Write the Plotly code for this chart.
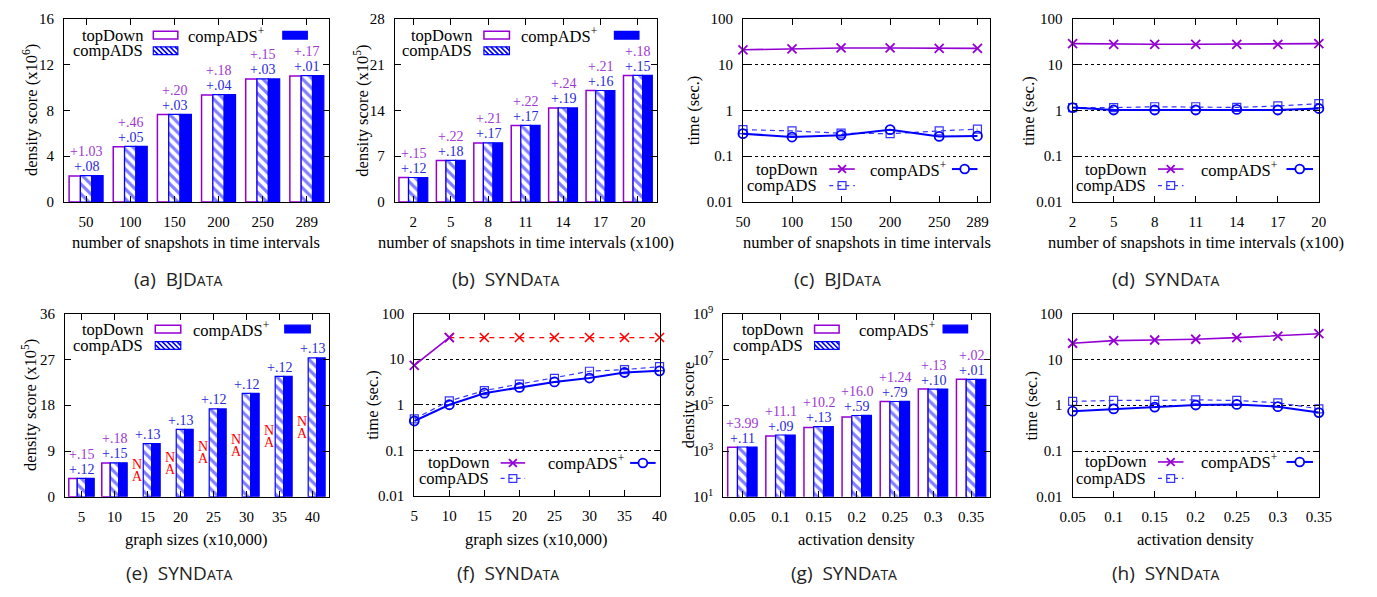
import plotly.graph_objects as go
import numpy as np

W, H = 1377, 597
OFF = 0
FW, FH = W - 2 * OFF, H - 2 * OFF

SERIF = "Liberation Serif"
SANS = "Open Sans"
PURPLE = "#9400D3"
BLUE = "#0000FF"
BLUE2 = "#3535ff"
RED = "#FF0000"
LAB_PURPLE = "#a035d5"
LAB_BLUE = "#2828e0"

# ---------------- data ----------------
# (a) BJData density score (x10^6)
a_cats = ["50", "100", "150", "200", "250", "289"]
a_topDown = [2.28, 4.83, 7.63, 9.35, 10.73, 11.01]
a_compADS = [2.31, 4.85, 7.65, 9.37, 10.75, 11.03]
a_compADSp = [2.31, 4.85, 7.65, 9.37, 10.75, 11.03]
a_lab_top = ["+1.03", "+.46", "+.20", "+.18", "+.15", "+.17"]
a_lab_cmp = ["+.08", "+.05", "+.03", "+.04", "+.03", "+.01"]

# (b) SYNData density score (x10^5)
b_cats = ["2", "5", "8", "11", "14", "17", "20"]
b_topDown = [3.74, 6.36, 9.03, 11.68, 14.35, 17.02, 19.33]
b_compADS = [3.75, 6.37, 9.04, 11.70, 14.37, 17.04, 19.36]
b_compADSp = [3.75, 6.37, 9.04, 11.70, 14.37, 17.04, 19.36]
b_lab_top = ["+.15", "+.22", "+.21", "+.22", "+.24", "+.21", "+.18"]
b_lab_cmp = ["+.12", "+.18", "+.17", "+.17", "+.19", "+.16", "+.15"]

# (c) BJData time (sec.)
c_x = [50, 100, 150, 200, 250, 289]
c_topDown = [21.0, 22.0, 23.0, 23.0, 22.5, 22.5]
c_compADS = [0.38, 0.356, 0.318, 0.31, 0.356, 0.39]
c_compADSp = [0.31, 0.262, 0.288, 0.38, 0.27, 0.277]

# (d) SYNData time (sec.)
d_x = [2, 5, 8, 11, 14, 17, 20]
d_topDown = [28.6, 27.7, 27.7, 27.7, 27.7, 27.7, 28.6]
d_compADS = [1.15, 1.15, 1.2, 1.2, 1.16, 1.25, 1.4]
d_compADSp = [1.15, 1.02, 1.02, 1.02, 1.05, 1.02, 1.1]

# (e) SYNData density score (x10^5) vs graph size
e_cats = ["5", "10", "15", "20", "25", "30", "35", "40"]
e_topDown = [3.60, 6.66, None, None, None, None, None, None]
e_compADS = [3.63, 6.69, 10.45, 13.26, 17.27, 20.33, 23.65, 27.28]
e_compADSp = [3.63, 6.69, 10.45, 13.26, 17.27, 20.33, 23.65, 27.28]
e_lab_top = ["+.15", "+.18", None, None, None, None, None, None]
e_lab_cmp = ["+.12", "+.15", "+.13", "+.13", "+.12", "+.12", "+.12", "+.13"]
e_na = [False, False, True, True, True, True, True, True]

# (f) SYNData time vs graph size
f_x = [5, 10, 15, 20, 25, 30, 35, 40]
f_topDown_x = [5, 10]
f_topDown = [7.3, 29.8]
f_topDown_na_x = [10, 15, 20, 25, 30, 35, 40]
f_topDown_na = [29.8, 29.8, 29.8, 29.8, 29.8, 29.8, 29.8]
f_compADS = [0.49, 1.21, 2.04, 2.83, 3.79, 5.43, 5.9, 6.84]
f_compADSp = [0.44, 1.0, 1.79, 2.4, 3.17, 3.85, 5.09, 5.53]

# (g) SYNData density score vs activation density (log)
g_cats = ["0.05", "0.1", "0.15", "0.2", "0.25", "0.3", "0.35"]
g_topDown = [1450, 4500, 10600, 30900, 144000, 506000, 1350000]
g_compADS = [1500, 5000, 11700, 35600, 145000, 507000, 1350000]
g_compADSp = [1500, 5000, 11700, 35800, 146000, 507000, 1350000]
g_lab_top = ["+3.99", "+11.1", "+10.2", "+16.0", "+1.24", "+.13", "+.02"]
g_lab_cmp = ["+.11", "+.09", "+.13", "+.59", "+.79", "+.10", "+.01"]

# (h) SYNData time vs activation density
h_x = [0.05, 0.1, 0.15, 0.2, 0.25, 0.3, 0.35]
h_topDown = [22.5, 25.7, 26.5, 27.5, 29.8, 32.3, 36.3]
h_compADS = [1.21, 1.27, 1.27, 1.31, 1.27, 1.13, 0.83]
h_compADSp = [0.74, 0.83, 0.91, 1.01, 1.04, 0.93, 0.69]

log_ticks = [0.01, 0.1, 1, 10, 100]
log_ticktext = ["0.01", "0.1", "1", "10", "100"]
g_ticks = [1e1, 1e3, 1e5, 1e7, 1e9]
g_ticktext = ["10<sup>1</sup>", "10<sup>3</sup>", "10<sup>5</sup>", "10<sup>7</sup>", "10<sup>9</sup>"]

# ---------------- layout geometry (target pixels) ----------------
panels = {
    "a": (52, 322, 9, 198), "b": (389, 656, 9, 198),
    "c": (744, 996, 9, 198), "d": (1080, 1331, 9, 198),
    "e": (53, 322, 313, 502), "f": (409, 659, 313, 501),
    "g": (724, 996, 313, 502), "h": (1080, 1331, 313, 502),
}
order = ["a", "b", "c", "d", "e", "f", "g", "h"]


def X(p):
    return (p - OFF) / FW


def Y(p):
    return 1 - (p - OFF) / FH


fig = go.Figure()
annotations = []
shapes = []


def ids(k):
    return ("x" if k == 1 else f"x{k}"), ("y" if k == 1 else f"y{k}")


def add_bars(k, cats, td, ca, cp):
    xa, ya = ids(k)
    fig.add_trace(go.Bar(x=cats, y=td, xaxis=xa, yaxis=ya, name="topDown",
                         marker=dict(color="white", line=dict(color=PURPLE, width=1.5))))
    fig.add_trace(go.Bar(x=cats, y=ca, xaxis=xa, yaxis=ya, name="compADS",
                         marker=dict(color="white", line=dict(color=BLUE, width=1.2),
                                     pattern=dict(shape="\\", fgcolor=BLUE, bgcolor="white",
                                                  size=7, solidity=0.45, fillmode="overlay"))))
    fig.add_trace(go.Bar(x=cats, y=cp, xaxis=xa, yaxis=ya, name="compADS+",
                         marker=dict(color=BLUE, line=dict(color=BLUE, width=1.2))))


def add_bar_labels(k, vals, labs_top, labs_cmp, logy=False):
    xa, ya = ids(k)
    for i, (v, lt, lc) in enumerate(zip(vals, labs_top, labs_cmp)):
        yv = np.log10(v) if logy else v
        if lc:
            annotations.append(dict(xref=xa, yref=ya, x=i, y=yv, yshift=9, text=lc, showarrow=False,
                                    yanchor="middle", font=dict(family=SERIF, size=14, color=LAB_BLUE)))
        if lt:
            annotations.append(dict(xref=xa, yref=ya, x=i, y=yv, yshift=24, text=lt, showarrow=False,
                                    yanchor="middle", font=dict(family=SERIF, size=14, color=LAB_PURPLE)))


def add_lines(k, x, td, ca, cp, td_x=None):
    xa, ya = ids(k)
    fig.add_trace(go.Scatter(x=td_x if td_x is not None else x, y=td, xaxis=xa, yaxis=ya, name="topDown",
                             mode="lines+markers", cliponaxis=False,
                             line=dict(color=PURPLE, width=1.6),
                             marker=dict(symbol="x-thin", size=9, line=dict(color=PURPLE, width=1.8))))
    fig.add_trace(go.Scatter(x=x, y=ca, xaxis=xa, yaxis=ya, name="compADS",
                             mode="lines+markers", cliponaxis=False,
                             line=dict(color=BLUE2, width=1.2, dash="5px,4px"),
                             marker=dict(symbol="square-open", size=8, color=BLUE2, line=dict(width=1.2))))
    fig.add_trace(go.Scatter(x=x, y=cp, xaxis=xa, yaxis=ya, name="compADS+",
                             mode="lines+markers", cliponaxis=False,
                             line=dict(color=BLUE, width=2),
                             marker=dict(symbol="circle-open", size=9, color=BLUE, line=dict(width=1.8))))


# ---- traces ----
add_bars(1, a_cats, a_topDown, a_compADS, a_compADSp)
add_bar_labels(1, a_compADSp, a_lab_top, a_lab_cmp)
add_bars(2, b_cats, b_topDown, b_compADS, b_compADSp)
add_bar_labels(2, b_compADSp, b_lab_top, b_lab_cmp)
add_lines(3, c_x, c_topDown, c_compADS, c_compADSp)
add_lines(4, d_x, d_topDown, d_compADS, d_compADSp)
add_bars(5, e_cats, e_topDown, e_compADS, e_compADSp)
add_bar_labels(5, e_compADSp, e_lab_top, e_lab_cmp)
# NA markers in (e)
for i, (v, na) in enumerate(zip(e_compADS, e_na)):
    if na:
        for letter, sh in (("N", 6), ("A", -6)):
            annotations.append(dict(xref="x5", yref="y5", x=i, y=v / 2, xshift=-10, yshift=sh, text=letter,
                                    showarrow=False, font=dict(family=SERIF, size=14, color=RED)))
# (f)
fig.add_trace(go.Scatter(x=f_topDown_na_x, y=f_topDown_na, xaxis="x6", yaxis="y6", name="topDown (NA)",
                         mode="lines+markers", cliponaxis=False,
                         line=dict(color=RED, width=1.2, dash="5px,5px"),
                         marker=dict(symbol="x-thin", size=9, line=dict(color=RED, width=1.6))))
add_lines(6, f_x, f_topDown, f_compADS, f_compADSp, td_x=f_topDown_x)
add_bars(7, g_cats, g_topDown, g_compADS, g_compADSp)
add_bar_labels(7, g_compADSp, g_lab_top, g_lab_cmp, logy=True)
add_lines(8, h_x, h_topDown, h_compADS, h_compADSp)

# ---- axes ----
axis_common = dict(showline=True, linecolor="black", linewidth=1, mirror="ticks", ticks="inside",
                   ticklen=6, tickcolor="black", tickwidth=1, zeroline=False, showgrid=False,
                   tickfont=dict(family=SERIF, size=15, color="black"))


def catax(cats):
    return dict(type="category", categoryorder="array", categoryarray=cats,
                range=[-0.5, len(cats) - 0.5], autorange=False, ticklabelstandoff=6)


xcfg = {
    "a": catax(a_cats),
    "b": catax(b_cats),
    "c": dict(range=[50, 302], tickvals=c_x, ticklabelstandoff=6),
    "d": dict(range=[2, 20], tickvals=d_x, ticklabelstandoff=6),
    "e": catax(e_cats),
    "f": dict(range=[5, 40], tickvals=f_x, ticklabelstandoff=6),
    "g": catax(g_cats),
    "h": dict(range=[0.05, 0.35], tickvals=h_x, ticktext=["0.05", "0.1", "0.15", "0.2", "0.25", "0.3", "0.35"],
              ticklabelstandoff=6),
}
logcfg = dict(type="log", range=[-2, 2], tickvals=log_ticks, ticktext=log_ticktext, showgrid=True,
              gridcolor="black", griddash="dot", gridwidth=1)
ycfg = {
    "a": dict(range=[0, 16], tickvals=[0, 4, 8, 12, 16]),
    "b": dict(range=[0, 28], tickvals=[0, 7, 14, 21, 28]),
    "c": logcfg, "d": logcfg,
    "e": dict(range=[0, 36], tickvals=[0, 9, 18, 27, 36]),
    "f": logcfg,
    "g": dict(type="log", range=[1, 9], tickvals=g_ticks, ticktext=g_ticktext),
    "h": logcfg,
}

layout_axes = {}
for i, p in enumerate(order):
    k = i + 1
    x0, x1, y0, y1 = panels[p]
    xa, ya = ids(k)
    xkey = "xaxis" if k == 1 else f"xaxis{k}"
    ykey = "yaxis" if k == 1 else f"yaxis{k}"
    xd = dict(axis_common)
    xd.update(domain=[X(x0), X(x1)], anchor=ya)
    xd.update(xcfg[p])
    yd = dict(axis_common)
    yd.update(domain=[Y(y1), Y(y0)], anchor=xa, ticklabelstandoff=6, autorange=False)
    yd.update(ycfg[p])
    layout_axes[xkey] = xd
    layout_axes[ykey] = yd

# ---- axis titles (annotations) ----
xtitles = {
    "a": "number of snapshots in time intervals",
    "b": "number of snapshots in time intervals (x100)",
    "c": "number of snapshots in time intervals",
    "d": "number of snapshots in time intervals (x100)",
    "e": "graph sizes (x10,000)", "f": "graph sizes (x10,000)",
    "g": "activation density", "h": "activation density",
}
ytitles = {
    "a": "density score (x10<sup>6</sup>)", "b": "density score (x10<sup>5</sup>)",
    "c": "time (sec.)", "d": "time (sec.)",
    "e": "density score (x10<sup>5</sup>)", "f": "time (sec.)",
    "g": "density score", "h": "time (sec.)",
}
ytitle_x = {"a": 18, "b": 355, "c": 693, "d": 1035, "e": 17, "f": 367, "g": 688, "h": 1038}
captions = {"a": ("(a)", "BJ", "D", "ATA"), "b": ("(b)", "SYN", "D", "ATA"),
            "c": ("(c)", "BJ", "D", "ATA"), "d": ("(d)", "SYN", "D", "ATA"),
            "e": ("(e)", "SYN", "D", "ATA"), "f": ("(f)", "SYN", "D", "ATA"),
            "g": ("(g)", "SYN", "D", "ATA"), "h": ("(h)", "SYN", "D", "ATA")}
caption_x = {"a": 168, "b": 502, "c": 840, "d": 1175, "e": 169, "f": 505, "g": 847, "h": 1175}

for p in order:
    x0, x1, y0, y1 = panels[p]
    row2 = y0 > 300
    annotations.append(dict(xref="paper", yref="paper", x=X((x0 + x1) / 2), y=Y(546 if row2 else 240),
                            text=xtitles[p], showarrow=False, xanchor="center", yanchor="middle",
                            font=dict(family=SERIF, size=16.5, color="black")))
    annotations.append(dict(xref="paper", yref="paper", x=X(ytitle_x[p]), y=Y((y0 + y1) / 2),
                            text=ytitles[p], showarrow=False, textangle=-90, xanchor="center", yanchor="middle",
                            font=dict(family=SERIF, size=16.5, color="black")))
    lab, pre, big, small = captions[p]
    annotations.append(dict(xref="paper", yref="paper", x=X(caption_x[p]), y=Y(580 if row2 else 277),
                            text=f"{lab}  {pre}{big}<span style='font-size:14px'>{small}</span>",
                            showarrow=False, xanchor="center", yanchor="middle",
                            font=dict(family=SANS, size=19, color="#222222")))

# ---- in-plot legends (gnuplot style: text then sample) ----
legend_spec = {
    "a": dict(kind="bar", c1=135, s1=(143, 168), c2=258, s2=(275, 300), r=(26, 42)),
    "b": dict(kind="bar", c1=470, s1=(480, 506), c2=597, s2=(613, 638), r=(26, 42)),
    "c": dict(kind="line", c1=822, s1=(832, 858), c2=953, s2=(957, 983), r=(164, 181)),
    "d": dict(kind="line", c1=1157, s1=(1167, 1193), c2=1290, s2=(1298, 1325), r=(164, 181)),
    "e": dict(kind="bar", c1=135, s1=(145, 171), c2=263, s2=(277, 303), r=(329, 346)),
    "f": dict(kind="line", c1=487, s1=(497, 522), c2=625, s2=(629, 655), r=(467, 483)),
    "g": dict(kind="bar", c1=807, s1=(817, 842), c2=942, s2=(948, 973), r=(329, 346)),
    "h": dict(kind="line", c1=1157, s1=(1167, 1193), c2=1290, s2=(1298, 1325), r=(466, 483)),
}


def ltext(txt, xr, yc):
    annotations.append(dict(xref="paper", yref="paper", x=X(xr), y=Y(yc), xanchor="right", yanchor="middle",
                            text=txt, showarrow=False, font=dict(family=SERIF, size=16.5, color="black")))


def rect(x0, x1, y0, y1, fill, line, lw):
    shapes.append(dict(type="rect", xref="paper", yref="paper", x0=X(x0), x1=X(x1), y0=Y(y1), y1=Y(y0),
                       fillcolor=fill, line=dict(color=line, width=lw)))


def hatch(x0, x1, y0, y1, spacing=5):
    h = y1 - y0
    s = x0 - h
    parts = []
    while s < x1:
        ta = max(0.0, (x0 - s) / h)
        tb = min(1.0, (x1 - s) / h)
        if tb > ta:
            parts.append(f"M{X(s + ta * h):.6f},{Y(y0 + ta * h):.6f} L{X(s + tb * h):.6f},{Y(y0 + tb * h):.6f}")
        s += spacing
    shapes.append(dict(type="path", xref="paper", yref="paper", path=" ".join(parts),
                       line=dict(color=BLUE, width=1.6)))


def seg(x0, x1, y, color, width, dash="solid"):
    shapes.append(dict(type="line", xref="paper", yref="paper", x0=X(x0), x1=X(x1), y0=Y(y), y1=Y(y),
                       line=dict(color=color, width=width, dash=dash)))


def xmark(xc, yc, r, color, width):
    path = (f"M{X(xc - r)},{Y(yc - r)} L{X(xc + r)},{Y(yc + r)} "
            f"M{X(xc - r)},{Y(yc + r)} L{X(xc + r)},{Y(yc - r)}")
    shapes.append(dict(type="path", xref="paper", yref="paper", path=path, line=dict(color=color, width=width)))


for p in order:
    sp = legend_spec[p]
    r1, r2 = sp["r"]
    ltext("topDown", sp["c1"], r1)
    ltext("compADS", sp["c1"], r2)
    ltext("compADS<sup>+</sup>", sp["c2"], r1)
    (a0, a1), (b0, b1) = sp["s1"], sp["s2"]
    if sp["kind"] == "bar":
        rect(a0, a1, r1 - 4, r1 + 4, "white", PURPLE, 1.5)
        rect(a0, a1, r2 - 4, r2 + 4, "white", BLUE, 1.2)
        hatch(a0, a1, r2 - 4, r2 + 4)
        rect(b0, b1, r1 - 4, r1 + 4, BLUE, BLUE, 1.2)
    else:
        seg(a0, a1, r1, PURPLE, 1.6)
        xmark((a0 + a1) / 2, r1, 4, PURPLE, 1.8)
        seg(a0, a1, r2, BLUE2, 1.2, dash="4px,4px")
        mx = (a0 + a1) / 2
        shapes.append(dict(type="rect", xref="paper", yref="paper", x0=X(mx - 4), x1=X(mx + 4),
                           y0=Y(r2 + 4), y1=Y(r2 - 4), fillcolor="rgba(0,0,0,0)", line=dict(color=BLUE2, width=1.2)))
        seg(b0, b1, r1, BLUE, 2)
        mx = (b0 + b1) / 2
        shapes.append(dict(type="circle", xref="paper", yref="paper", x0=X(mx - 4.5), x1=X(mx + 4.5),
                           y0=Y(r1 + 4.5), y1=Y(r1 - 4.5), fillcolor="white", line=dict(color=BLUE, width=1.8)))

fig.update_layout(
    width=FW, height=FH, margin=dict(l=0, r=0, t=0, b=0),
    paper_bgcolor="white", plot_bgcolor="white",
    showlegend=False, barmode="group", bargap=0.23, bargroupgap=0,
    font=dict(family=SERIF, color="black"),
    annotations=annotations, shapes=shapes,
    **layout_axes,
)

fig.write_html("out.html")
